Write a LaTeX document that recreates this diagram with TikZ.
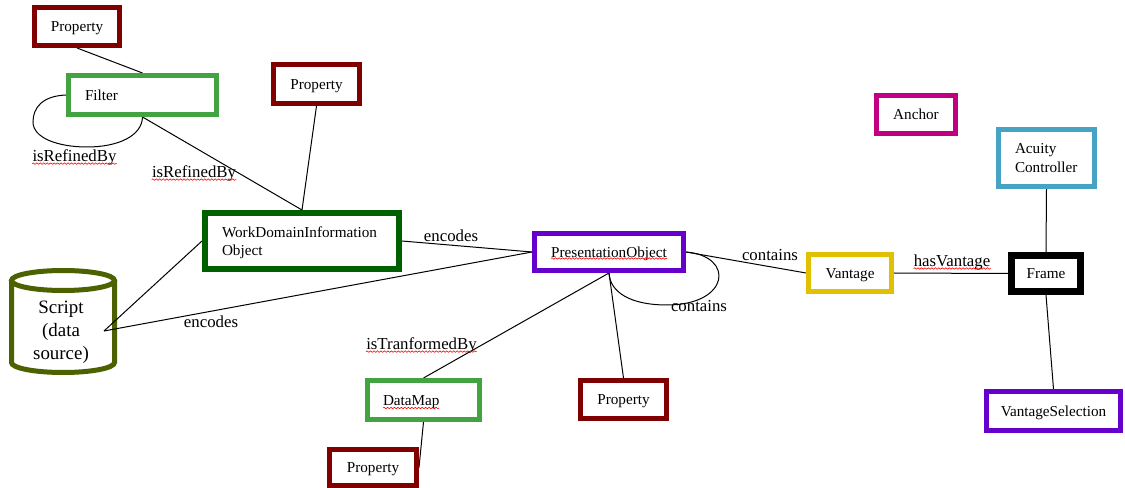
\documentclass[tikz,border=0pt]{standalone}
\usepackage{fontspec}
\setmainfont{Liberation Serif}[Ligatures=TeX]
\newfontfamily\timesface{Liberation Serif}
\usetikzlibrary{calc,backgrounds,decorations.pathmorphing}

\definecolor{propred}{RGB}{128,0,0}
\definecolor{leafgreen}{RGB}{67,163,67}
\definecolor{deepgreen}{RGB}{0,96,0}
\definecolor{olive}{RGB}{76,98,0}
\definecolor{violet}{RGB}{102,0,204}
\definecolor{gold}{RGB}{224,192,0}
\definecolor{magenta}{RGB}{192,0,128}
\definecolor{skyblue}{RGB}{70,163,196}

\begin{document}
\begin{tikzpicture}[x=0.75pt,y=-0.75pt,
  box/.style={draw=#1, line width=3.75pt, fill=white, inner sep=2pt,
    font=\timesface\fontsize{11.4}{13.7}\selectfont},
  oneline/.style={text height=9.6pt, text depth=2pt},
  leftbox/.style={align=left, inner xsep=#1},
  lbl/.style={inner sep=0pt, font=\timesface\fontsize{12.6}{15}\selectfont},
  link/.style={line width=0.75pt},
  cyl/.style={draw=olive, line width=3.75pt},
  squiggle/.style={red, line width=0.45pt, decorate,
    decoration={snake, amplitude=0.55pt, segment length=2.6pt}}
]
\useasboundingbox (0,0) rectangle (1125,488);

% ---- class boxes ----
\node[box=propred, oneline, minimum width=63.75pt, minimum height=28.5pt] (prop1) at (77,26.5) {Property};
\node[box=leafgreen, oneline, leftbox=12.375pt, text width=86.25pt, minimum height=29.25pt] (filter) at (142.5,95) {Filter};
\node[box=propred, oneline, minimum width=64.5pt, minimum height=29.25pt] (prop2) at (316.5,84) {Property};
\node[box=deepgreen, line width=4.5pt, leftbox=12.75pt, text width=120pt, minimum height=42pt] (wdio) at (302,241) {\rule{0pt}{10.5pt}WorkDomainInformation\\Object};
\node[box=violet, oneline, minimum width=111.75pt, minimum height=27.75pt] (po) at (609,252) {PresentationObject};
\node[box=gold, oneline, minimum width=62.25pt, minimum height=27.75pt] (vantage) at (850,273) {Vantage};
\node[box=black, oneline, line width=5.25pt, minimum width=51.75pt, minimum height=27pt] (frame) at (1046,273.5) {Frame};
\node[box=magenta, oneline, minimum width=59.25pt, minimum height=28.5pt] (anchor) at (916,114.5) {Anchor};
\node[box=skyblue, leftbox=12.375pt, text width=47.25pt, minimum height=42.75pt] (acuity) at (1046.5,158) {Acuity\\Controller};
\node[box=violet, oneline, minimum width=100.5pt, minimum height=29.25pt] (vsel) at (1053.5,411) {VantageSelection};
\node[box=leafgreen, oneline, leftbox=11.625pt, text width=60.75pt, minimum height=29.25pt] (datamap) at (423.5,400) {DataMap};
\node[box=propred, oneline, minimum width=64.5pt, minimum height=28.5pt] (prop3) at (623.5,399.5) {Property};
\node[box=propred, oneline, minimum width=65.25pt, minimum height=27pt] (prop4) at (373,467.5) {Property};

% ---- data source cylinder ----
\node[font=\timesface\fontsize{14.2}{17.25}\selectfont, align=center, inner sep=0pt] (script) at (61,332) {Script\\(data\\source)};
\coordinate (scriptEnd) at (104,331);

% ---- relation labels ----
\node[lbl] (refA) at (74.5,157) {isRefinedBy};
\node[lbl] (refB) at (194,173) {isRefinedBy};
\node[lbl] (encA) at (451,236) {encodes};
\node[lbl] (encB) at (211,322) {encodes};
\node[lbl] (conA) at (770,255) {contains};
\node[lbl] (conB) at (699,306) {contains};
\node[lbl] (trans) at (421.5,345) {isTranformedBy};
\node[lbl] (hasv) at (952,262) {hasVantage};

\begin{scope}[on background layer]
  \draw[cyl] (63,280.5) ellipse [x radius=38.625pt, y radius=7.5pt];
  \draw[cyl] (11.5,280.5) -- (11.5,362.5)
    arc [start angle=180, end angle=360, x radius=38.625pt, y radius=7.5pt]
    -- (114.5,280.5);

  \draw[link] (prop1.south) -- (filter.north);
  \draw[link] (filter.west) .. controls (42,96) and (33,108) .. (33,122)
    .. controls (33,138) and (58,147) .. (87,147)
    .. controls (118,147) and (142,136) .. (filter.south);
  \draw[link] (filter.south) -- (wdio.north);
  \draw[link] (prop2.south) -- (wdio.north);
  \draw[link] (wdio.west) -- (scriptEnd);
  \draw[link] (po.west) -- (scriptEnd);
  \draw[link] (wdio.east) -- (po.west);
  \draw[link] (po.east) .. controls (735,256) and (730,305) .. (667,305)
    .. controls (630,305) and (610,292) .. (po.south);
  \draw[link] (po.east) -- (vantage.west);
  \draw[link] (po.south) -- (datamap.north);
  \draw[link] (po.south) -- (prop3.north);
  \draw[link] (datamap.south) -- (prop4.east);
  \draw[link] (vantage.east) -- (frame.west);
  \draw[link] (acuity.south) -- (frame.north);
  \draw[link] (frame.south) -- (vsel.north);
\end{scope}

% ---- spelling marks under words ----
\foreach \w in {refA,refB,trans,hasv}
  \draw[squiggle] ($(\w.base west)+(0,2.5)$) -- ($(\w.base east)+(0,2.5)$);
\draw[squiggle] ($(po.center)+(-58,6.5)$) -- ($(po.center)+(58,6.5)$);
\draw[squiggle] ($(datamap.center)+(-40.5,8)$) -- ($(datamap.center)+(15.5,8)$);
\end{tikzpicture}
\end{document}
